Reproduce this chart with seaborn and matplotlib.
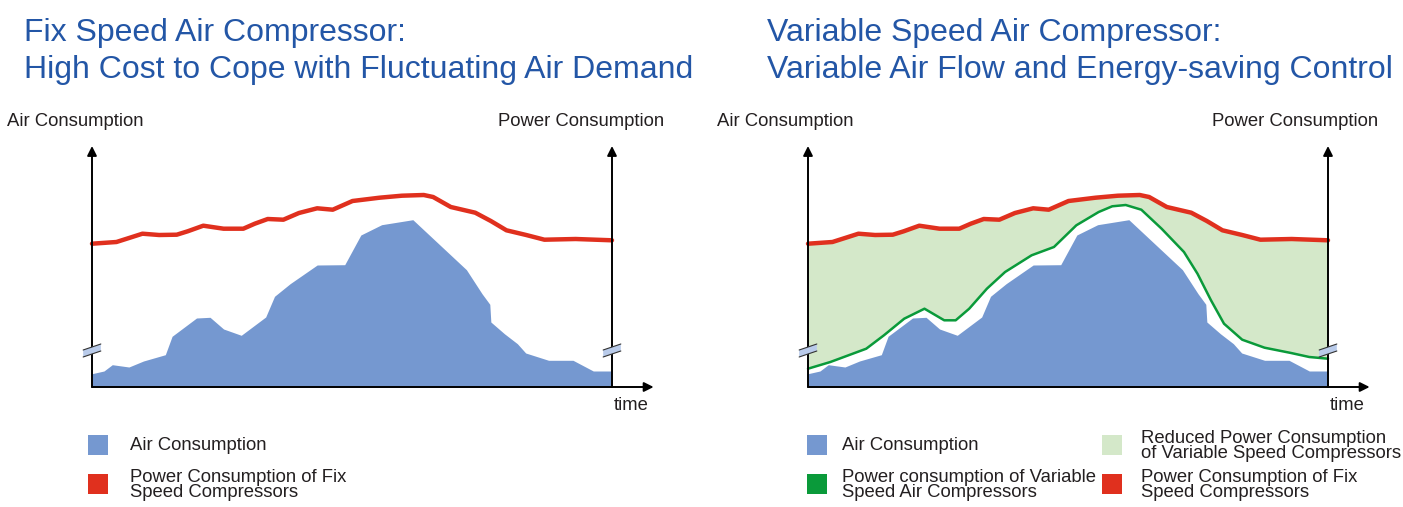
import numpy as np
import pandas as pd
import matplotlib
matplotlib.use("Agg")
import matplotlib.pyplot as plt
from matplotlib.patches import Rectangle, Polygon
import seaborn as sns

# time axis runs 0..100, values are heights above the time axis
air_t = [0, 2.3, 3.9, 7.1, 9.9, 14.1, 15.4, 20.1, 22.7, 25.3, 28.7, 33.4, 35.1, 38.1,
         43.3, 48.6, 51.7, 55.7, 61.7, 72.0, 75.0, 76.5, 76.7, 79.3, 81.8, 83.4,
         87.8, 92.5, 96.4, 100]
air_y = [13.3, 16, 22.3, 20, 26, 32.3, 50.7, 69, 69.7, 58, 51.7, 70, 90.7, 103.3,
         122, 122.3, 152, 162.3, 167.3, 117.3, 93.3, 82.7, 65, 53.3, 43.3, 34,
         26.7, 26.7, 16, 16]

fix_t = [0, 4.7, 7.3, 9.7, 12.9, 16.3, 18.4, 21.4, 25.3, 29.1, 31.3, 33.8, 36.8,
         39.8, 43.3, 46.3, 50.1, 55.3, 59.6, 63.8, 65.6, 69.0, 73.7, 76.7, 79.7,
         83.5, 87.0, 93.0, 100]
fix_y = [143.3, 145, 149.3, 153.3, 152, 152.3, 155.7, 161.3, 158.3, 158.3, 163.3,
         168, 167.3, 174, 178.7, 177.3, 186, 189.3, 191.3, 192, 190, 180, 174.3,
         166, 156.7, 152, 147.3, 148, 146.7]

var_t = [0, 4.3, 11.2, 14.6, 18.5, 22.4, 26.2, 28.4, 31.0, 34.4, 37.9, 43.0, 47.3,
         51.6, 55.9, 58.5, 61.1, 64.1, 68.0, 72.3, 74.9, 77.5, 80.0, 83.5, 87.8,
         92.9, 96.4, 100]
var_y = [18.3, 25, 38.3, 51.7, 68.3, 78.3, 66.7, 66.7, 78.3, 98.3, 115, 131.7, 140,
         161.7, 175, 180.7, 182, 177.3, 158.3, 135, 113.3, 86.7, 63.3, 47.3, 39.3,
         34, 30, 28.3]

titles_left = ["Fix Speed Air Compressor:", "High Cost to Cope with Fluctuating Air Demand"]
titles_right = ["Variable Speed Air Compressor:", "Variable Air Flow and Energy-saving Control"]

BLUE = "#7598d0"
RED = "#e0301e"
GREEN = "#0a9a3a"
LIGHT_GREEN = "#d4e8c9"
TITLE = "#2356a6"
TEXT = "#231f20"

sns.set_theme(style="white")
plt.rcParams["font.family"] = ["Liberation Sans", "DejaVu Sans"]

W, H = 1403, 507
fig = plt.figure(figsize=(W / 100, H / 100), dpi=100)


def fx(px):
    return px / W


def fy(py):
    return 1 - py / H


def panel(x0, variable):
    ax = fig.add_axes([fx(x0), fy(387), 520 / W, 240 / H])
    ax.set_xlim(0, 100)
    ax.set_ylim(0, 240)
    ax.axis("off")

    fix = pd.DataFrame({"t": fix_t, "y": fix_y})
    if variable:
        grid = np.union1d(fix_t, var_t)
        ax.fill_between(grid, np.interp(grid, var_t, var_y), np.interp(grid, fix_t, fix_y),
                        color=LIGHT_GREEN, lw=0, clip_on=False)
    ax.fill_between(air_t, 0, air_y, color=BLUE, lw=0, clip_on=False)
    if variable:
        var = pd.DataFrame({"t": var_t, "y": var_y})
        sns.lineplot(data=var, x="t", y="y", ax=ax, color=GREEN, lw=1.8,
                     sort=False, clip_on=False)
    sns.lineplot(data=fix, x="t", y="y", ax=ax, color=RED, lw=3.2,
                 sort=False, clip_on=False)

    arrow = dict(arrowstyle="-|>", color="black", lw=1.4, mutation_scale=14,
                 shrinkA=0, shrinkB=0)
    for xv in (0, 100):
        ax.annotate("", xy=(xv, 241), xytext=(xv, 0), arrowprops=arrow,
                    annotation_clip=False)
        # axis break mark
        ax.add_patch(Polygon([(xv - 1.7, 30), (xv + 1.7, 36), (xv + 1.7, 43), (xv - 1.7, 37)],
                             closed=True, facecolor="#b9cbea", edgecolor="none",
                             clip_on=False, zorder=5))
        ax.plot([xv - 1.7, xv + 1.7], [30, 36], color="#333333", lw=0.8, clip_on=False, zorder=6)
        ax.plot([xv - 1.7, xv + 1.7], [37, 43], color="#333333", lw=0.8, clip_on=False, zorder=6)
    ax.annotate("", xy=(108, 0), xytext=(0, 0), arrowprops=arrow, annotation_clip=False)
    ax.set_xlabel("")
    ax.set_ylabel("")
    return ax


panel(92, False)
panel(808, True)

tkw = dict(color=TITLE, fontsize=23, va="center", ha="left")
fig.text(fx(24), fy(33), titles_left[0], **tkw)
fig.text(fx(24), fy(70), titles_left[1], **tkw)
fig.text(fx(767), fy(33), titles_right[0], **tkw)
fig.text(fx(767), fy(70), titles_right[1], **tkw)

lkw = dict(color=TEXT, fontsize=13.3, va="center")
fig.text(fx(7), fy(122), "Air Consumption", ha="left", **lkw)
fig.text(fx(664), fy(122), "Power Consumption", ha="right", **lkw)
fig.text(fx(717), fy(122), "Air Consumption", ha="left", **lkw)
fig.text(fx(1378), fy(122), "Power Consumption", ha="right", **lkw)
fig.text(fx(631), fy(405), "time", ha="center", **lkw)
fig.text(fx(1347), fy(405), "time", ha="center", **lkw)


def swatch(px, py, color):
    fig.add_artist(Rectangle((fx(px), fy(py + 20)), 20 / W, 20 / H,
                             transform=fig.transFigure, color=color, lw=0))


swatch(88, 435, BLUE)
swatch(88, 474, RED)
fig.text(fx(130), fy(446), "Air Consumption", ha="left", **lkw)
fig.text(fx(130), fy(485), "Power Consumption of Fix\nSpeed Compressors", ha="left",
         linespacing=0.86, **lkw)

swatch(807, 435, BLUE)
swatch(807, 474, GREEN)
swatch(1102, 435, LIGHT_GREEN)
swatch(1102, 474, RED)
fig.text(fx(842), fy(446), "Air Consumption", ha="left", **lkw)
fig.text(fx(842), fy(485), "Power consumption of Variable\nSpeed Air Compressors", ha="left",
         linespacing=0.86, **lkw)
fig.text(fx(1141), fy(446), "Reduced Power Consumption\nof Variable Speed Compressors", ha="left",
         linespacing=0.86, **lkw)
fig.text(fx(1141), fy(485), "Power Consumption of Fix\nSpeed Compressors", ha="left",
         linespacing=0.86, **lkw)

fig.savefig("out.png", dpi=100)
